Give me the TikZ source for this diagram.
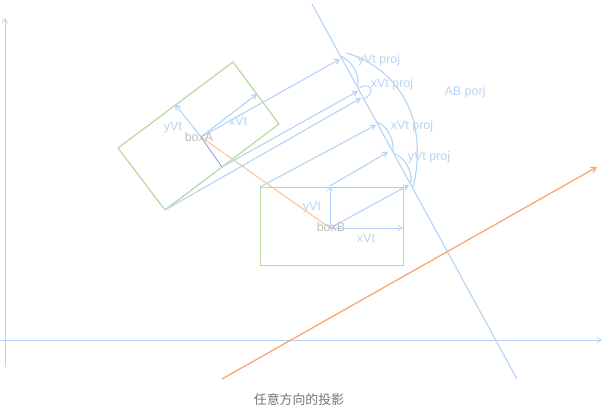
\documentclass[tikz,border=0pt]{standalone}
\usepackage{fontspec}
\setmainfont{Liberation Sans}
\newfontfamily\cjk{Noto Sans CJK SC}
\usetikzlibrary{arrows.meta}
\definecolor{lblue}{HTML}{B4D3F5}
\definecolor{tblue}{HTML}{B8D4F2}
\definecolor{lgreen}{HTML}{B8D8A0}
\definecolor{pale}{HTML}{F9C9A8}
\definecolor{strong}{HTML}{FBA673}
\definecolor{slatec}{HTML}{8A9CBC}
\tikzset{
  wire/.style={draw=lblue,line width=1.1pt},
  arw/.style={wire,-{Straight Barb[length=4.5pt,width=5.5pt]}},
  thinarw/.style={arw,line width=0.8pt},
  curl/.style={draw=lblue,line width=1.1pt},
  boxline/.style={draw=lgreen,line width=1.2pt,line join=round},
  lab/.style={text=tblue,font=\fontsize{12.5}{14}\selectfont,inner sep=0pt},
  boxlab/.style={text=black!25,font=\fontsize{12.5}{14}\selectfont,inner sep=0pt},
}
\begin{document}
\begin{tikzpicture}[x=1pt,y=-1pt]
\useasboundingbox (0,0) rectangle (613,417);
% named points
\coordinate (yb) at (5,367); \coordinate (yt) at (5,18);
\coordinate (xl) at (0,340); \coordinate (xr) at (602,340);
\coordinate (ab1) at (312,4); \coordinate (ab2) at (517,379);
\coordinate (o1) at (222,379); \coordinate (o2) at (597,167);
\coordinate (a1) at (233,62); \coordinate (a2) at (279,124);
\coordinate (a3) at (165,210); \coordinate (a4) at (118,148);
\coordinate (ca) at (201,137); \coordinate (ay) at (175,104);
\coordinate (ax) at (257,94); \coordinate (am) at (222,167);
\coordinate (b1) at (260,187); \coordinate (b2) at (403,187);
\coordinate (b3) at (403,265); \coordinate (b4) at (260,265);
\coordinate (cb) at (330,228); \coordinate (by) at (330,186);
\coordinate (bx) at (403,228);
\coordinate (p1) at (340,59); \coordinate (p2) at (358,91);
\coordinate (p3) at (361,98); \coordinate (p4) at (376,125);
\coordinate (p5) at (388,152); \coordinate (p6) at (409,185);
% axes
\draw[thinarw] (yb) -- (yt);
\draw[thinarw] (xl) -- (xr);
% AB axis and orange
\draw[wire] (ab1) -- (ab2);
\draw[draw=strong,line width=1.3pt,-{Straight Barb[length=5pt,width=6pt]}] (o1) -- (o2);
% boxes
\draw[boxline] (a1) -- (a2) -- (a3) -- (a4) -- cycle;
\draw[boxline,line width=0.85pt] (b1) -- (b2) -- (b3) -- (b4) -- cycle;
% centre link
\draw[draw=pale,line width=1.2pt] (ca) -- (cb);
\draw[draw=slatec,line width=0.8pt] (ca) -- (am);
% vectors
\draw[arw] (ca) -- (ay);
\draw[arw] (ca) -- (ax);
\draw[thinarw] (cb) -- (by);
\draw[thinarw] (cb) -- (bx);
\draw[arw] (cb) -- (p6);
% projections
\draw[arw] (ca) -- (p1);
\draw[arw] (am) -- (p2);
\draw[arw] (a3) -- (p3);
\draw[arw] (b1) -- (p4);
\draw[arw] (by) -- (p5);
% curls
\draw[curl] (341,56) .. controls (352,62) and (359,72) .. (358,86);
\draw[curl] (359,88) .. controls (366,84) and (372,86) .. (371,91) .. controls (370,95) and (367,98) .. (363,99);
\draw[curl] (377,122) .. controls (386,126) and (394,136) .. (393,152);
\draw[curl] (395,154) .. controls (404,158) and (412,168) .. (411,183);
\draw[curl] (346,53) .. controls (378,62) and (404,86) .. (414,122) .. controls (419,145) and (418,168) .. (413,187);
% labels
\node[lab] (t1) at (173,127) {yVt};
\node[lab] (t2) at (238,121) {xVt};
\node[boxlab] (t3) at (199,137) {boxA};
\node[lab] (t4) at (379,60) {yVt proj};
\node[lab] (t5) at (392,84) {xVt proj};
\node[lab] (t6) at (465,92) {AB porj};
\node[lab] (t7) at (412,126) {xVt proj};
\node[lab] (t8) at (429,157) {yVt proj};
\node[lab] (t9) at (312,207) {yVt};
\node[lab] (t10) at (366,238) {xVt};
\node[boxlab] (t11) at (331,227) {boxB};
\node[text=black!55,font=\cjk\fontsize{12.9}{14}\selectfont,inner sep=0pt] (cap) at (299,400) {任意方向的投影};
\end{tikzpicture}
\end{document}
